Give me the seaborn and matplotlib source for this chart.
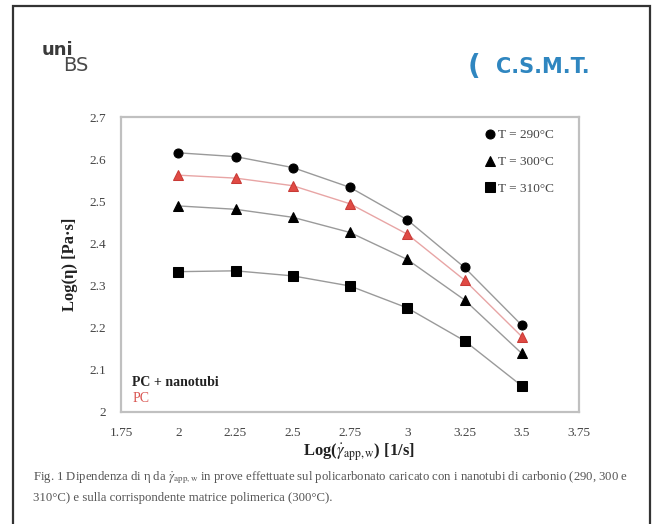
import matplotlib
matplotlib.use("Agg")
import matplotlib.pyplot as plt
import seaborn as sns
import pandas as pd
from matplotlib.patches import Rectangle

# ---- data ----
shear_log = [2.0, 2.25, 2.5, 2.75, 3.0, 3.25, 3.5]
visc_290 = [2.615, 2.606, 2.580, 2.533, 2.456, 2.343, 2.206]
visc_300 = [2.489, 2.481, 2.462, 2.426, 2.362, 2.266, 2.139]
visc_310 = [2.333, 2.335, 2.323, 2.299, 2.247, 2.169, 2.062]
visc_pc_300 = [2.562, 2.555, 2.537, 2.494, 2.422, 2.313, 2.179]
legend_labels = ["T = 290°C", "T = 300°C", "T = 310°C"]
x_ticks = [1.75, 2, 2.25, 2.5, 2.75, 3, 3.25, 3.5, 3.75]
x_tick_labels = ["1.75", "2", "2.25", "2.5", "2.75", "3", "3.25", "3.5", "3.75"]
y_ticks = [2.0, 2.1, 2.2, 2.3, 2.4, 2.5, 2.6, 2.7]
y_tick_labels = ["2", "2.1", "2.2", "2.3", "2.4", "2.5", "2.6", "2.7"]

sns.set_theme(style="white")
plt.rcParams["font.family"] = ["Liberation Serif", "DejaVu Serif"]
plt.rcParams["mathtext.fontset"] = "stix"

W, H = 659, 524
fig = plt.figure(figsize=(W / 100, H / 100), dpi=100)
fig.patch.set_facecolor("white")

# slide frame
fig.add_artist(Rectangle((13 / W, -0.05), (650 - 13) / W, 1.05 - 6 / H,
                         transform=fig.transFigure, fill=False,
                         edgecolor="#333333", linewidth=1.6))

# logos (text approximations)
fig.text(42 / W, 1 - 50 / H, "uni", fontsize=13, fontweight="bold",
         family="DejaVu Sans", color="#3a3a3a", va="center", ha="left")
fig.text(63 / W, 1 - 66 / H, "BS", fontsize=14, family="DejaVu Sans",
         color="#4a4a4a", va="center", ha="left")
fig.text(496 / W, 1 - 67 / H, "C.S.M.T.", fontsize=15, fontweight="bold",
         family="DejaVu Sans", color="#2f86c0", va="center", ha="left")
fig.text(468 / W, 1 - 67 / H, "(", fontsize=20, fontweight="bold",
         family="DejaVu Sans", color="#2f86c0", va="center", ha="left")

ax = fig.add_axes([121 / W, 1 - 412 / H, (579 - 121) / W, (412 - 117) / H])

series = [
    (visc_290, "o", "black", "#9a9a9a", 6.5, legend_labels[0]),
    (visc_300, "^", "black", "#9a9a9a", 6.5, legend_labels[1]),
    (visc_310, "s", "black", "#9a9a9a", 7.0, legend_labels[2]),
]
for vals, mk, mc, lc, ms, lab in series:
    df = pd.DataFrame({"x": shear_log, "y": vals})
    sns.lineplot(data=df, x="x", y="y", ax=ax, color=lc, linewidth=1.0,
                 marker=mk, markersize=ms, markerfacecolor=mc,
                 markeredgecolor=mc, label=lab)

df_pc = pd.DataFrame({"x": shear_log, "y": visc_pc_300})
sns.lineplot(data=df_pc, x="x", y="y", ax=ax, color="#e8a5a5", linewidth=1.0,
             marker="^", markersize=6.5, markerfacecolor="#e04a44",
             markeredgecolor="#c83a36", legend=False)

ax.set_xlim(1.75, 3.75)
ax.set_ylim(2.0, 2.7)
ax.set_xticks(x_ticks)
ax.set_xticklabels(x_tick_labels)
ax.set_yticks(y_ticks)
ax.set_yticklabels(y_tick_labels)
ax.tick_params(axis="both", labelsize=9.5, colors="#555555", length=3,
               width=1, direction="out", pad=8)
ax.tick_params(axis="both", labelcolor="#444444")
for sp in ax.spines.values():
    sp.set_color("#c0c0c0")
    sp.set_linewidth(1.6)

ax.set_xlabel(r"Log($\dot{\gamma}_{\mathrm{app,w}}$) [1/s]", fontsize=12,
              fontweight="bold", color="#222222", va="center")
ax.xaxis.set_label_coords(0.52, -(452 - 412) / 295)
ax.set_ylabel("Log(η) [Pa·s]", fontsize=12, fontweight="bold",
              color="#222222", labelpad=8)

leg = ax.legend(loc="upper right", bbox_to_anchor=(0.965, 0.99),
                frameon=False, fontsize=9.5, handlelength=0.6,
                handletextpad=0.3, labelspacing=1.1, borderaxespad=0.3)
for h in leg.legend_handles:
    h.set_linestyle("none")
for t in leg.get_texts():
    t.set_color("#444444")

ax.text(0.025, (412 - 382) / 295, "PC + nanotubi", transform=ax.transAxes,
        fontsize=10, fontweight="bold", color="#222222", va="center")
ax.text(0.025, (412 - 399) / 295, "PC", transform=ax.transAxes, fontsize=10,
        color="#d9534f", va="center")

cap1 = ("Fig. 1 Dipendenza di η da " + r"$\dot{\gamma}_{\mathrm{app,w}}$" +
        " in prove effettuate sul policarbonato caricato con i nanotubi di carbonio (290, 300 e")
cap2 = "310°C) e sulla corrispondente matrice polimerica (300°C)."
fig.text(33 / W, 1 - 478 / H, cap1, fontsize=9.2, color="#555555", va="center")
fig.text(33 / W, 1 - 498 / H, cap2, fontsize=9.2, color="#555555", va="center")

fig.savefig("out.png", dpi=100, facecolor="white")
